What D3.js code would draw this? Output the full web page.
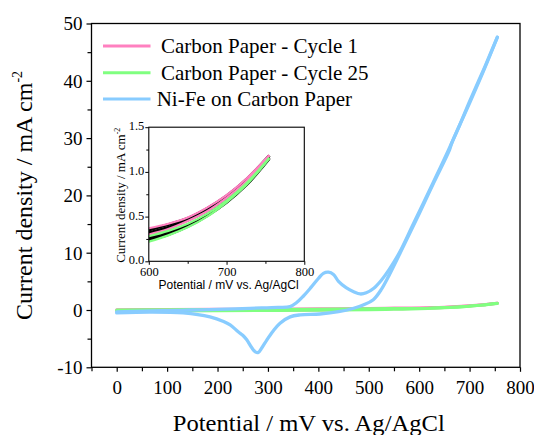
<!DOCTYPE html>
<html><head><meta charset="utf-8">
<script src="https://cdn.jsdelivr.net/npm/d3@7/dist/d3.min.js"></script>
<style>
html,body{margin:0;padding:0;background:#fff;}
svg{display:block;}
</style></head>
<body>
<svg id="chart" width="534" height="435"></svg>
<script>
// ---------- DATA ----------
const seriesNames = ["Carbon Paper - Cycle 1", "Carbon Paper - Cycle 25", "Ni-Fe on Carbon Paper"];
const seriesColors = ["#FF80C0", "#80FF80", "#88CCFF"];

// Carbon paper (forward scan potentials, mV)
const carbonPotFwd = [0, 100, 200, 300, 400, 500, 550, 600, 625, 650, 675, 700, 725, 755];
const carbonC1Fwd  = [0.05, 0.10, 0.12, 0.15, 0.20, 0.28, 0.33, 0.37, 0.42, 0.49, 0.60, 0.74, 0.92, 1.19];
const carbonC25Fwd = [0.00, 0.05, 0.08, 0.10, 0.15, 0.22, 0.26, 0.28, 0.34, 0.42, 0.53, 0.68, 0.87, 1.16];
// Carbon paper (reverse scan potentials, mV)
const carbonPotRev = [755, 725, 700, 675, 650, 625, 600, 550, 500, 400, 300, 200, 100, 0];
const carbonC1Rev  = [1.18, 0.89, 0.71, 0.56, 0.45, 0.36, 0.30, 0.20, 0.12, 0.00, -0.05, -0.10, -0.12, -0.15];
const carbonC25Rev = [1.15, 0.85, 0.66, 0.50, 0.38, 0.29, 0.22, 0.12, 0.06, -0.03, -0.08, -0.12, -0.15, -0.18];

// Intermediate cycles shown in black in the inset
const insetPot = [600, 625, 650, 675, 700, 725, 755];
const blackCycleA = [0.35, 0.41, 0.48, 0.59, 0.73, 0.91, 1.18];
const blackCycleB = [0.32, 0.38, 0.46, 0.57, 0.72, 0.90, 1.18];
const blackCycleC = [0.26, 0.32, 0.40, 0.52, 0.67, 0.86, 1.16];
const blackCycleD = [0.24, 0.30, 0.39, 0.51, 0.66, 0.85, 1.15];

// Ni-Fe on carbon paper
const niFePotFwd = [0, 50, 100, 150, 200, 264, 320, 344, 357, 370, 385, 400, 410, 420, 430, 440, 455, 470, 483, 495, 510, 525, 540, 562, 585, 608, 633, 658, 680, 700, 730, 755];
const niFeCurFwd = [-0.35, -0.2, -0.1, 0.0, 0.1, 0.3, 0.45, 0.6, 1.3, 2.4, 3.9, 5.5, 6.4, 6.6, 6.2, 5.0, 3.9, 3.2, 2.8, 3.0, 3.8, 5.2, 7.0, 10.2, 14.4, 18.6, 23.2, 27.9, 32.2, 36.4, 42.4, 47.6];
const niFePotRev = [755, 730, 700, 665, 660, 630, 600, 562, 540, 525, 509, 490, 470, 440, 403, 364, 344, 324, 310, 298, 288, 281, 275, 268, 258, 250, 241, 225, 212, 185, 132, 66, 0];
const niFeCurRev = [47.6, 42.2, 36.1, 29.2, 27.9, 22.4, 16.8, 9.9, 6.0, 3.6, 1.8, 0.9, 0.3, -0.3, -0.7, -0.85, -1.2, -2.3, -3.7, -5.2, -6.6, -7.4, -7.3, -6.6, -5.2, -4.4, -3.8, -2.6, -2.0, -1.2, -0.5, -0.35, -0.5];

// Ticks
const xMajorTicks = [0, 100, 200, 300, 400, 500, 600, 700, 800];
const xMinorTicks = [-50, 50, 150, 250, 350, 450, 550, 650, 750];
const yMajorTicks = [-10, 0, 10, 20, 30, 40, 50];
const yMinorTicks = [-5, 5, 15, 25, 35, 45];
const insetXTicks = [600, 700, 800];
const insetXMinor = [650, 750];
const insetYTicks = [0.0, 0.5, 1.0, 1.5];
const insetYMinor = [0.25, 0.75, 1.25];

// ---------- DRAW ----------
const svg = d3.select("#chart");
const plain = d => String(d);
const SERIF = '"Liberation Serif", "Times New Roman", serif';
const SANS = '"Liberation Sans", Arial, sans-serif';

const L = 91.5, R = 520, T = 23.5, B = 367.3;
const x = d3.scaleLinear().domain([-50, 800]).range([L, R]);
const y = d3.scaleLinear().domain([-10, 50]).range([B, T]);

const zip = (xs, ys) => xs.map((v, i) => [v, ys[i]]);
function lineGen(xs, ys) {
  return d3.line().x(d => xs(d[0])).y(d => ys(d[1])).curve(d3.curveCatmullRom.alpha(0.5));
}
const mainLine = lineGen(x, y);

const mainG = svg.append("g");
function drawLoop(g, gen, fwdX, fwdY, revX, revY, color, w) {
  [[fwdX, fwdY], [revX, revY]].forEach(([xs, ys]) => {
    g.append("path").attr("d", gen(zip(xs, ys))).attr("fill", "none")
      .attr("stroke", color).attr("stroke-width", w).attr("stroke-linejoin", "round").attr("stroke-linecap", "round");
  });
}
drawLoop(mainG, mainLine, carbonPotFwd, carbonC1Fwd, carbonPotRev, carbonC1Rev, seriesColors[0], 3);
drawLoop(mainG, mainLine, carbonPotFwd, carbonC25Fwd, carbonPotRev, carbonC25Rev, seriesColors[1], 3);
drawLoop(mainG, mainLine, niFePotFwd, niFeCurFwd, niFePotRev, niFeCurRev, seriesColors[2], 3.3);

// frame
svg.append("rect").attr("x", L).attr("y", T).attr("width", R - L).attr("height", B - T)
  .attr("fill", "none").attr("stroke", "#000").attr("stroke-width", 1.3);

// axes
const xAxis = svg.append("g").attr("transform", `translate(0,${B})`)
  .call(d3.axisBottom(x).tickValues(xMajorTicks).tickSize(4.5).tickPadding(9).tickFormat(plain));
svg.append("g").attr("transform", `translate(0,${B})`)
  .call(d3.axisBottom(x).tickValues(xMinorTicks).tickSize(4).tickFormat(""));
const yAxis = svg.append("g").attr("transform", `translate(${L},0)`)
  .call(d3.axisLeft(y).tickValues(yMajorTicks).tickSize(5).tickPadding(4).tickFormat(plain));
svg.append("g").attr("transform", `translate(${L},0)`)
  .call(d3.axisLeft(y).tickValues(yMinorTicks).tickSize(4).tickFormat(""));
svg.selectAll(".domain").remove();
svg.selectAll(".tick line").attr("stroke", "#000").attr("stroke-width", 1.2);
xAxis.selectAll("text").style("font-family", SERIF).style("font-size", "19px").attr("fill", "#000");
yAxis.selectAll("text").style("font-family", SERIF).style("font-size", "19px").attr("fill", "#000").attr("dy", "0.34em");

// axis titles
svg.append("text").attr("x", (L + R) / 2 + 3).attr("y", 431)
  .attr("text-anchor", "middle").style("font-family", SERIF).style("font-size", "23.5px")
  .attr("textLength", 272).attr("lengthAdjust", "spacingAndGlyphs")
  .text("Potential / mV vs. Ag/AgCl");
const yt = svg.append("text").attr("transform", `translate(32,${(T + B) / 2}) rotate(-90)`)
  .attr("text-anchor", "middle").style("font-family", SERIF).style("font-size", "24px");
yt.append("tspan").text("Current density  /  mA cm");
yt.append("tspan").style("font-size", "14px").attr("dy", -10).text("-2");

// legend
const legY = [46, 72.7, 99];
const legTextX = [161, 161, 156.7];
seriesNames.forEach((n, i) => {
  svg.append("line").attr("x1", 103).attr("x2", 150.5).attr("y1", legY[i]).attr("y2", legY[i])
    .attr("stroke", seriesColors[i]).attr("stroke-width", 3);
  svg.append("text").attr("x", legTextX[i]).attr("y", legY[i] + 7)
    .style("font-family", SERIF).style("font-size", "21px").attr("fill", "#000").text(n);
});

// ---------- INSET ----------
const iL = 148.8, iR = 304.3, iT = 127.2, iB = 261.3;
const ix = d3.scaleLinear().domain([600, 800]).range([iL, iR]);
const iy = d3.scaleLinear().domain([0, 1.5]).range([iB, iT]);
const insetLine = lineGen(ix, iy);

svg.append("rect").attr("x", iL).attr("y", iT).attr("width", iR - iL).attr("height", iB - iT).attr("fill", "#fff");
svg.append("clipPath").attr("id", "iclip").append("rect")
  .attr("x", iL).attr("y", iT).attr("width", iR - iL).attr("height", iB - iT);
const ig = svg.append("g").attr("clip-path", "url(#iclip)");

[blackCycleA, blackCycleB, blackCycleC, blackCycleD].forEach(c => {
  ig.append("path").attr("d", insetLine(zip(insetPot, c))).attr("fill", "none")
    .attr("stroke", "#000").attr("stroke-width", 3);
});
const sel = (xs, ys) => zip(xs, ys).filter(d => d[0] >= 590);
[[carbonPotFwd, carbonC1Fwd, 0], [carbonPotRev, carbonC1Rev, 0], [carbonPotFwd, carbonC25Fwd, 1], [carbonPotRev, carbonC25Rev, 1]]
  .forEach(([xs, ys, c]) => {
    ig.append("path").attr("d", insetLine(sel(xs, ys))).attr("fill", "none")
      .attr("stroke", seriesColors[c]).attr("stroke-width", 2.2);
  });

svg.append("rect").attr("x", iL).attr("y", iT).attr("width", iR - iL).attr("height", iB - iT)
  .attr("fill", "none").attr("stroke", "#000").attr("stroke-width", 1.1);

const ixAxis = svg.append("g").attr("transform", `translate(0,${iB})`)
  .call(d3.axisBottom(ix).tickValues(insetXTicks).tickSize(3.5).tickPadding(2).tickFormat(plain));
svg.append("g").attr("transform", `translate(0,${iB})`)
  .call(d3.axisBottom(ix).tickValues(insetXMinor).tickSize(2.5).tickFormat(""));
const iyAxis = svg.append("g").attr("transform", `translate(${iL},0)`)
  .call(d3.axisLeft(iy).tickValues(insetYTicks).tickSize(3.5).tickPadding(1).tickFormat(d3.format(".1f")));
svg.append("g").attr("transform", `translate(${iL},0)`)
  .call(d3.axisLeft(iy).tickValues(insetYMinor).tickSize(2.5).tickFormat(""));
svg.selectAll(".domain").remove();
svg.selectAll(".tick line").attr("stroke", "#000");
ixAxis.selectAll("text").style("font-family", SERIF).style("font-size", "12.5px").attr("fill", "#000");
iyAxis.selectAll("text").style("font-family", SERIF).style("font-size", "12.5px").attr("fill", "#000").attr("dy", "0.2em");

svg.append("text").attr("x", (iL + iR) / 2 + 2).attr("y", 289)
  .attr("text-anchor", "middle").style("font-family", SANS).style("font-size", "12px").attr("fill", "#000")
  .text("Potential / mV vs. Ag/AgCl");
const iyt = svg.append("text").attr("transform", `translate(125,${(iT + iB) / 2 + 1}) rotate(-90)`)
  .attr("text-anchor", "middle").style("font-family", SERIF).style("font-size", "13px").attr("fill", "#000");
iyt.append("tspan").text("Current density / mA cm");
iyt.append("tspan").style("font-size", "8px").attr("dy", -5).text("-2");
</script>
</body></html>
